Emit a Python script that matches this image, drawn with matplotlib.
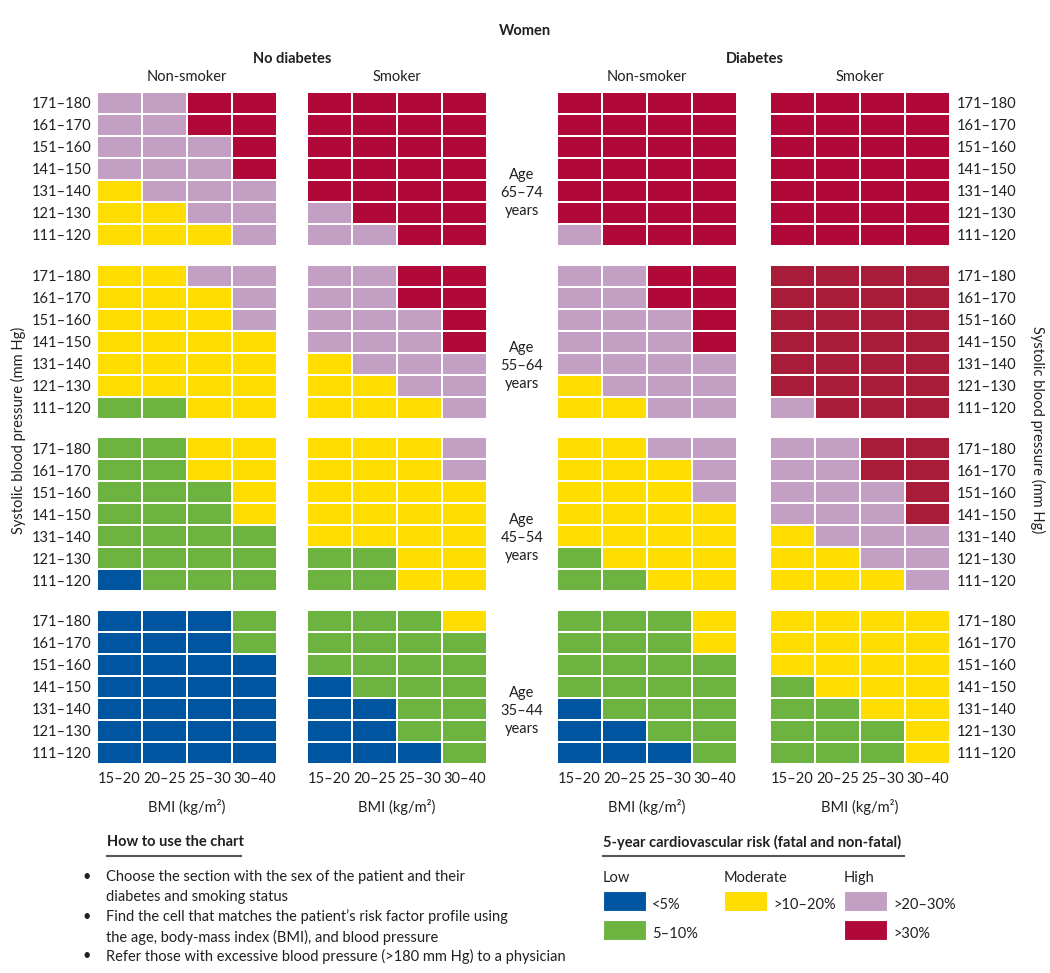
import matplotlib
matplotlib.use("Agg")
import matplotlib.pyplot as plt
import numpy as np
from matplotlib.colors import ListedColormap, BoundaryNorm
from matplotlib.lines import Line2D
from matplotlib.patches import Rectangle

plt.rcParams['font.family'] = ['Lato', 'DejaVu Sans']

W, H = 1050, 973

# risk codes: 0 <5%, 1 5-10%, 2 >10-20%, 3 >20-30%, 4 >30%, 5 >30% (darker print)
risk_colors = ['#0055a0', '#6db33f', '#ffdd00', '#c49fc4', '#b00839', '#a81c3a']

sbp_labels = ['171–180', '161–170', '151–160', '141–150', '131–140', '121–130', '111–120']
bmi_labels = ['15–20', '20–25', '25–30', '30–40']
age_labels = ['65–74', '55–64', '45–54', '35–44']
panel_titles = ['Non-smoker', 'Smoker', 'Non-smoker', 'Smoker']

# rows top to bottom = SBP 171-180 ... 111-120, columns = BMI bands
age65_nodiab_nonsmoker = [[3, 3, 4, 4], [3, 3, 4, 4], [3, 3, 3, 4], [3, 3, 3, 4], [2, 3, 3, 3], [2, 2, 3, 3], [2, 2, 2, 3]]
age65_nodiab_smoker = [[4, 4, 4, 4], [4, 4, 4, 4], [4, 4, 4, 4], [4, 4, 4, 4], [4, 4, 4, 4], [3, 4, 4, 4], [3, 3, 4, 4]]
age65_diab_nonsmoker = [[4, 4, 4, 4], [4, 4, 4, 4], [4, 4, 4, 4], [4, 4, 4, 4], [4, 4, 4, 4], [4, 4, 4, 4], [3, 4, 4, 4]]
age65_diab_smoker = [[4, 4, 4, 4], [4, 4, 4, 4], [4, 4, 4, 4], [4, 4, 4, 4], [4, 4, 4, 4], [4, 4, 4, 4], [4, 4, 4, 4]]

age55_nodiab_nonsmoker = [[2, 2, 3, 3], [2, 2, 2, 3], [2, 2, 2, 3], [2, 2, 2, 2], [2, 2, 2, 2], [2, 2, 2, 2], [1, 1, 2, 2]]
age55_nodiab_smoker = [[3, 3, 4, 4], [3, 3, 4, 4], [3, 3, 3, 4], [3, 3, 3, 4], [2, 3, 3, 3], [2, 2, 3, 3], [2, 2, 2, 3]]
age55_diab_nonsmoker = [[3, 3, 4, 4], [3, 3, 4, 4], [3, 3, 3, 4], [3, 3, 3, 4], [3, 3, 3, 3], [2, 3, 3, 3], [2, 2, 3, 3]]
age55_diab_smoker = [[5, 5, 5, 5], [5, 5, 5, 5], [5, 5, 5, 5], [5, 5, 5, 5], [5, 5, 5, 5], [5, 5, 5, 5], [3, 5, 5, 5]]

age45_nodiab_nonsmoker = [[1, 1, 2, 2], [1, 1, 2, 2], [1, 1, 1, 2], [1, 1, 1, 2], [1, 1, 1, 1], [1, 1, 1, 1], [0, 1, 1, 1]]
age45_nodiab_smoker = [[2, 2, 2, 3], [2, 2, 2, 3], [2, 2, 2, 2], [2, 2, 2, 2], [2, 2, 2, 2], [1, 1, 2, 2], [1, 1, 2, 2]]
age45_diab_nonsmoker = [[2, 2, 3, 3], [2, 2, 2, 3], [2, 2, 2, 3], [2, 2, 2, 2], [2, 2, 2, 2], [1, 2, 2, 2], [1, 1, 2, 2]]
age45_diab_smoker = [[3, 3, 5, 5], [3, 3, 5, 5], [3, 3, 3, 5], [3, 3, 3, 5], [2, 3, 3, 3], [2, 2, 3, 3], [2, 2, 2, 3]]

age35_nodiab_nonsmoker = [[0, 0, 0, 1], [0, 0, 0, 1], [0, 0, 0, 0], [0, 0, 0, 0], [0, 0, 0, 0], [0, 0, 0, 0], [0, 0, 0, 0]]
age35_nodiab_smoker = [[1, 1, 1, 2], [1, 1, 1, 1], [1, 1, 1, 1], [0, 1, 1, 1], [0, 0, 1, 1], [0, 0, 1, 1], [0, 0, 0, 1]]
age35_diab_nonsmoker = [[1, 1, 1, 2], [1, 1, 1, 2], [1, 1, 1, 1], [1, 1, 1, 1], [0, 1, 1, 1], [0, 0, 1, 1], [0, 0, 0, 1]]
age35_diab_smoker = [[2, 2, 2, 2], [2, 2, 2, 2], [2, 2, 2, 2], [1, 2, 2, 2], [1, 1, 2, 2], [1, 1, 1, 2], [1, 1, 1, 2]]

grids = [
    [age65_nodiab_nonsmoker, age65_nodiab_smoker, age65_diab_nonsmoker, age65_diab_smoker],
    [age55_nodiab_nonsmoker, age55_nodiab_smoker, age55_diab_nonsmoker, age55_diab_smoker],
    [age45_nodiab_nonsmoker, age45_nodiab_smoker, age45_diab_nonsmoker, age45_diab_smoker],
    [age35_nodiab_nonsmoker, age35_nodiab_smoker, age35_diab_nonsmoker, age35_diab_smoker],
]

legend_groups = ['Low', 'Moderate', 'High']
legend_labels = ['<5%', '5–10%', '>10–20%', '>20–30%', '>30%']

# layout (pixels)
panel_left = [97, 307, 557, 770]
panel_top = [92, 265, 437, 610]
panel_w, panel_h = 180, 154
txt = '#231f20'
fs = 10.5

cmap = ListedColormap(risk_colors)
norm = BoundaryNorm(np.arange(-0.5, 6, 1), cmap.N)

fig = plt.figure(figsize=(W / 100, H / 100), dpi=100)


def fbox(x, y, w, h):
    return [x / W, 1 - (y + h) / H, w / W, h / H]


for i, row in enumerate(grids):
    for j, g in enumerate(row):
        ax = fig.add_axes(fbox(panel_left[j], panel_top[i], panel_w, panel_h))
        ax.pcolormesh(np.array(g), cmap=cmap, norm=norm, edgecolors='white', linewidth=1.1)
        ax.set_xlim(0, 4)
        ax.set_ylim(7, 0)
        for s in ax.spines.values():
            s.set_visible(False)
        ax.tick_params(length=0, labelsize=fs, colors=txt)
        ax.set_yticks(np.arange(7) + 0.5)
        ax.set_xticks(np.arange(4) + 0.5)
        if j == 0:
            ax.set_yticklabels(sbp_labels)
            ax.tick_params(axis='y', pad=4)
        elif j == 3:
            ax.yaxis.tick_right()
            ax.set_yticklabels(sbp_labels)
            ax.tick_params(axis='y', pad=5)
        else:
            ax.set_yticklabels([])
        if i == 3:
            ax.set_xticklabels(bmi_labels)
            ax.tick_params(axis='x', pad=6)
            ax.set_xlabel('BMI (kg/m²)', fontsize=fs, color=txt, labelpad=9)
        else:
            ax.set_xticklabels([])
    fig.text(522 / W, 1 - (panel_top[i] + 101) / H, 'Age\n' + age_labels[i] + '\nyears',
             ha='center', va='center', fontsize=fs, color=txt, linespacing=1.35)

# headers
fig.text(525 / W, 1 - 31 / H, 'Women', ha='center', va='center', fontsize=fs, fontweight='bold', color=txt)
fig.text(292 / W, 1 - 59 / H, 'No diabetes', ha='center', va='center', fontsize=fs, fontweight='bold', color=txt)
fig.text(755 / W, 1 - 59 / H, 'Diabetes', ha='center', va='center', fontsize=fs, fontweight='bold', color=txt)
for j, t in enumerate(panel_titles):
    fig.text((panel_left[j] + panel_w / 2) / W, 1 - 77 / H, t, ha='center', va='center', fontsize=fs, color=txt)

fig.text(18 / W, 1 - 430 / H, 'Systolic blood pressure (mm Hg)', rotation=90, ha='center', va='center',
         fontsize=fs, color=txt)
fig.text(1038 / W, 1 - 430 / H, 'Systolic blood pressure (mm Hg)', rotation=-90, ha='center', va='center',
         fontsize=fs, color=txt)

# how to use
fig.text(107 / W, 1 - 842 / H, 'How to use the chart', ha='left', va='center', fontsize=fs, fontweight='bold', color=txt)
fig.add_artist(Line2D([107 / W, 241 / W], [1 - 856 / H, 1 - 856 / H], color='#555555', lw=1.5))
bullets = [
    (877, 'Choose the section with the sex of the patient and their', True),
    (897, 'diabetes and smoking status', False),
    (917, 'Find the cell that matches the patient’s risk factor profile using', True),
    (937, 'the age, body-mass index (BMI), and blood pressure', False),
    (956, 'Refer those with excessive blood pressure (>180 mm Hg) to a physician', True),
]
for y, t, b in bullets:
    if b:
        fig.text(82 / W, 1 - y / H, '•', ha='left', va='center', fontsize=fs, color=txt)
    fig.text(106 / W, 1 - y / H, t, ha='left', va='center', fontsize=fs, color=txt)

# legend
fig.text(603 / W, 1 - 842 / H, '5-year cardiovascular risk (fatal and non-fatal)', ha='left', va='center',
         fontsize=fs, fontweight='bold', color=txt)
fig.add_artist(Line2D([603 / W, 904 / W], [1 - 856 / H, 1 - 856 / H], color='#555555', lw=1.5))
group_x = [603, 724, 844]
for gx, g in zip(group_x, legend_groups):
    fig.text(gx / W, 1 - 878 / H, g, ha='left', va='center', fontsize=fs, color=txt)
legend_pos = [(603, 891), (603, 920), (724, 891), (844, 891), (844, 920)]
legend_codes = [0, 1, 2, 3, 4]
for (lx, ly), c, lab in zip(legend_pos, legend_codes, legend_labels):
    fig.add_artist(Rectangle((lx / W, 1 - (ly + 20) / H), 43 / W, 20 / H, transform=fig.transFigure,
                             facecolor=risk_colors[c], edgecolor='white', lw=0.8))
    fig.text((lx + 49) / W, 1 - (ly + 14) / H, lab, ha='left', va='center', fontsize=fs, color=txt)

fig.savefig('out.png', dpi=100, facecolor='white')
